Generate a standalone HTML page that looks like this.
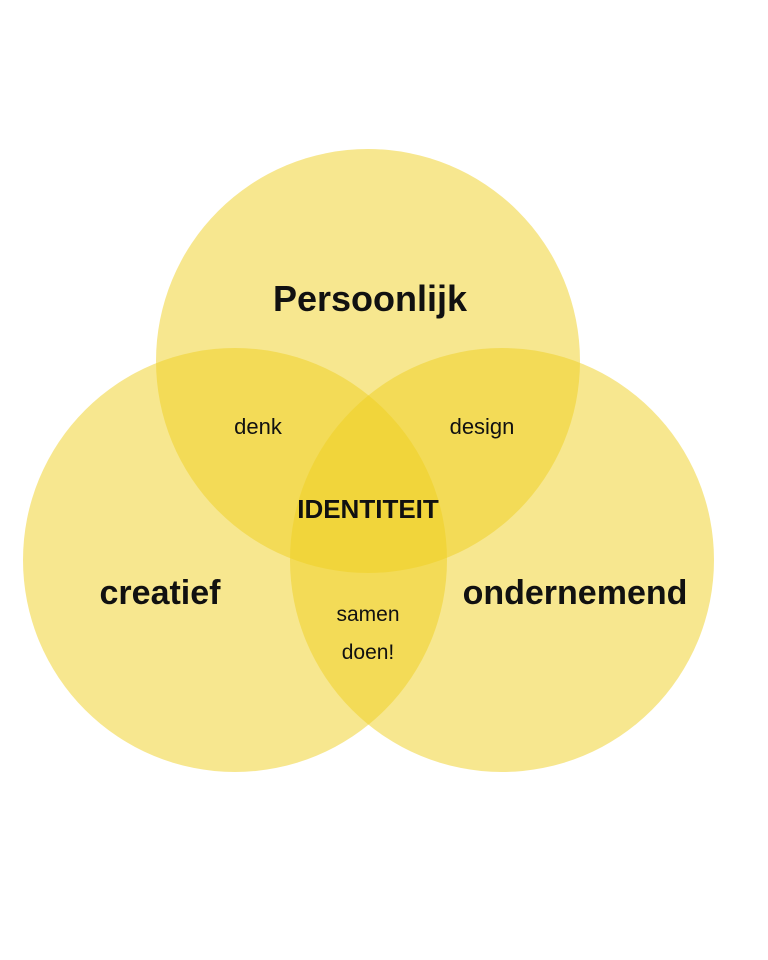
<!DOCTYPE html>
<html><head><meta charset="utf-8"><style>
html,body{margin:0;padding:0;background:#fff;}
svg{display:block;}
text{font-family:"Liberation Sans",sans-serif;fill:#111;text-anchor:middle;}
</style></head><body>
<svg width="768" height="960" viewBox="0 0 768 960">
<g fill="#f0d020" fill-opacity="0.5">
<circle cx="368" cy="361" r="212"/>
<circle cx="235" cy="560" r="212"/>
<circle cx="502" cy="560" r="212"/>
</g>
<text x="370" y="311" font-size="36" font-weight="bold">Persoonlijk</text>
<text x="258" y="434" font-size="22">denk</text>
<text x="482" y="434" font-size="22">design</text>
<text x="368" y="518" font-size="26" font-weight="bold">IDENTITEIT</text>
<text x="160" y="604" font-size="34" font-weight="bold">creatief</text>
<text x="575" y="604" font-size="34" font-weight="bold">ondernemend</text>
<text x="368" y="621" font-size="21">samen</text>
<text x="368" y="659" font-size="21">doen!</text>
</svg>
</body></html>
